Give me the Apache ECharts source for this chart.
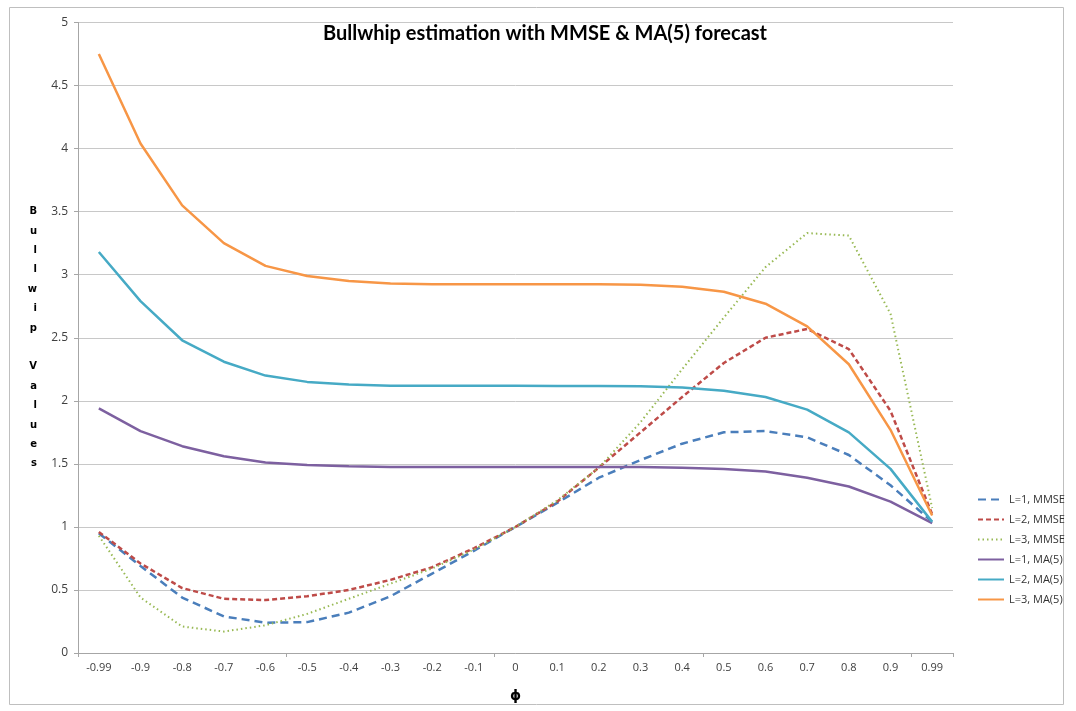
<!DOCTYPE html>
<html><head><meta charset="utf-8">
<script src="https://cdn.jsdelivr.net/npm/echarts@6/dist/echarts.min.js"></script>
<style>html,body{margin:0;padding:0;background:#fff}#c{width:1076px;height:711px}</style>
</head><body><div id="c"></div>
<script>
var categories = ['-0.99','-0.9','-0.8','-0.7','-0.6','-0.5','-0.4','-0.3','-0.2','-0.1','0','0.1','0.2','0.3','0.4','0.5','0.6','0.7','0.8','0.9','0.99'];
var yTicks = [0,0.5,1,1.5,2,2.5,3,3.5,4,4.5,5];
var seriesNames = ['L=1, MMSE','L=2, MMSE','L=3, MMSE','L=1, MA(5)','L=2, MA(5)','L=3, MA(5)'];
var l1MMSE = [0.95,0.69,0.44,0.29,0.24,0.245,0.32,0.45,0.63,0.81,1.0,1.19,1.39,1.53,1.66,1.75,1.76,1.71,1.57,1.33,1.04];
var l2MMSE = [0.96,0.71,0.515,0.43,0.42,0.45,0.5,0.58,0.68,0.83,1.0,1.2,1.47,1.75,2.03,2.30,2.50,2.57,2.41,1.92,1.10];
var l3MMSE = [0.93,0.44,0.21,0.17,0.22,0.31,0.43,0.55,0.67,0.82,1.0,1.21,1.47,1.83,2.25,2.66,3.06,3.33,3.31,2.69,1.15];
var l1MA5 = [1.94,1.76,1.64,1.56,1.51,1.49,1.48,1.475,1.475,1.475,1.475,1.475,1.475,1.475,1.47,1.46,1.44,1.39,1.32,1.20,1.03];
var l2MA5 = [3.18,2.79,2.48,2.31,2.20,2.15,2.13,2.12,2.12,2.12,2.12,2.117,2.117,2.115,2.105,2.08,2.03,1.93,1.75,1.46,1.04];
var l3MA5 = [4.75,4.04,3.55,3.25,3.07,2.99,2.95,2.93,2.925,2.925,2.925,2.925,2.925,2.92,2.905,2.865,2.77,2.59,2.29,1.77,1.09];

var values = [l1MMSE,l2MMSE,l3MMSE,l1MA5,l2MA5,l3MA5];
var colors = ['#4a7ebb','#be4b48','#98b954','#7d60a0','#46aac5','#f79646'];
var types = [[8,5],[5,3],[1.5,3],'solid','solid','solid'];
var widths = [2.5,2.5,2,2.5,2.5,2.5];

var chart = echarts.init(document.getElementById('c'));
chart.setOption({
  animation:false,
  backgroundColor:'#fff',
  title:{text:'Bullwhip estimation with MMSE & MA(5) forecast',left:540,top:19,textAlign:'center',
    textStyle:{fontFamily:'Lato',fontWeight:'bold',fontSize:20,color:'#000'}},
  graphic:[{type:'rect',shape:{x:9.5,y:7.5,width:1054,height:697},style:{fill:null,stroke:'#bfbfbf',lineWidth:1},silent:true}],
  legend:{orient:'vertical',left:972,top:489,itemWidth:26,itemHeight:10,itemGap:9,
    itemStyle:{color:'rgba(0,0,0,0)',borderWidth:0,opacity:0},
    textStyle:{fontFamily:'Open Sans',fontSize:11,color:'#333'},
    data:seriesNames},
  grid:{left:78,right:123,top:22.5,bottom:58},
  xAxis:{type:'category',data:categories,boundaryGap:true,
    name:'ϕ',nameLocation:'middle',nameGap:36,nameTextStyle:{fontWeight:'bold',fontSize:14,color:'#000',fontFamily:'DejaVu Sans'},
    axisLine:{lineStyle:{color:'#a6a6a6'}},axisTick:{show:true,interval:4,length:4,lineStyle:{color:'#a6a6a6'}},
    axisLabel:{interval:0,color:'#404040',fontFamily:'Open Sans',fontSize:11,margin:9},splitLine:{show:false}},
  yAxis:{type:'value',min:0,max:5,interval:0.5,
    name:'B\nu\nl\nl\nw\ni\np\n\nV\na\nl\nu\ne\ns',nameLocation:'middle',nameRotate:0,nameGap:41,
    nameTextStyle:{fontWeight:'bold',fontSize:10,lineHeight:19.4,color:'#000',fontFamily:'DejaVu Sans'},
    axisLine:{show:true,lineStyle:{color:'#a6a6a6'}},axisTick:{show:true,length:4,lineStyle:{color:'#a6a6a6'}},
    axisLabel:{color:'#404040',fontFamily:'Open Sans',fontSize:12,margin:10,
      formatter:function(v){return yTicks.indexOf(v)>=0?String(v):'';}},
    splitLine:{lineStyle:{color:'#c8c8c8',width:1}}},
  series:values.map(function(d,i){return {name:seriesNames[i],type:'line',data:d,symbol:'none',smooth:false,
    itemStyle:{color:colors[i]},
    lineStyle:{color:colors[i],width:widths[i],type:types[i]}};})
});
</script></body></html>
